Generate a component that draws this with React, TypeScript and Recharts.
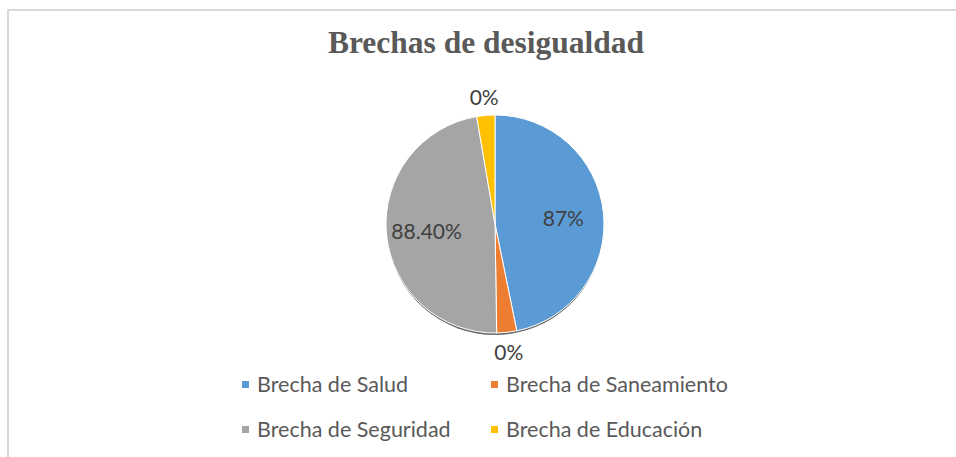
import React from 'react';
import { PieChart, Pie, Cell, Legend } from 'recharts';

const categories = ['Brecha de Salud', 'Brecha de Saneamiento', 'Brecha de Seguridad', 'Brecha de Educación'];
const values = [0.87, 0.055, 0.884, 0.05];
const valueLabels = ['87%', '0%', '88.40%', '0%'];
const colors = ['#5B9BD5', '#ED7D31', '#A5A5A5', '#FFC000'];

const data = categories.map((name, i) => ({ name, value: values[i], label: valueLabels[i] }));

const RADIAN = Math.PI / 180;
const labelFont = 'Lato, "Open Sans", sans-serif';

const renderLabel = (props: any) => {
  const { cx, cy, midAngle, outerRadius, percent, index } = props;
  // small slices get their label outside the pie
  const r = percent < 0.1 ? outerRadius + 19 : outerRadius * 0.63;
  const x = cx + r * Math.cos(-midAngle * RADIAN);
  const y = cy + r * Math.sin(-midAngle * RADIAN);
  return (
    <text x={x} y={y} fill="#404040" fontSize={21} fontFamily={labelFont}
      textAnchor="middle" dominantBaseline="central">
      {valueLabels[index]}
    </text>
  );
};

const renderLegend = () => (
  <div style={{ display: 'grid', gridTemplateColumns: '249px 260px', rowGap: 21, fontFamily: labelFont }}>
    {categories.map((c, i) => (
      <div key={c} style={{ display: 'flex', alignItems: 'center', height: 24, color: '#595959', fontSize: 21.5 }}>
        <span style={{ width: 7, height: 7, background: colors[i], marginRight: 8, display: 'inline-block' }} />
        <span>{c}</span>
      </div>
    ))}
  </div>
);

export default function App() {
  return (
    <div style={{
      position: 'absolute', left: 7, top: 9, width: 947, height: 446,
      borderTop: '2px solid #d9d9d9', borderLeft: '2px solid #d9d9d9', background: '#fff'
    }}>
      <div style={{
        position: 'absolute', left: 227, top: 14, width: 500, textAlign: 'center',
        fontFamily: '"Liberation Serif", "Times New Roman", serif', fontWeight: 'bold',
        fontSize: 31.5, lineHeight: '36px', color: '#595959'
      }}>
        Brechas de desigualdad
      </div>
      <PieChart width={938} height={436}>
        {/* soft shadow under the pie */}
        <Pie
          data={data}
          dataKey="value"
          cx={481}
          cy={211}
          outerRadius={108}
          startAngle={90}
          endAngle={-270}
          stroke="none"
          fill="#3a3a3a"
          fillOpacity={0.75}
          isAnimationActive={false}
          legendType="none"
        />
        <Pie
          data={data}
          dataKey="value"
          nameKey="name"
          cx={481}
          cy={208}
          outerRadius={109}
          startAngle={90}
          endAngle={-270}
          stroke="#fff"
          strokeWidth={1}
          label={renderLabel}
          labelLine={false}
          isAnimationActive={false}
        >
          {data.map((d, i) => <Cell key={d.name} fill={colors[i]} />)}
        </Pie>
        <Legend
          content={renderLegend}
          wrapperStyle={{ left: 233, top: 361, width: 520, bottom: 'auto' }}
        />
      </PieChart>
    </div>
  );
}
